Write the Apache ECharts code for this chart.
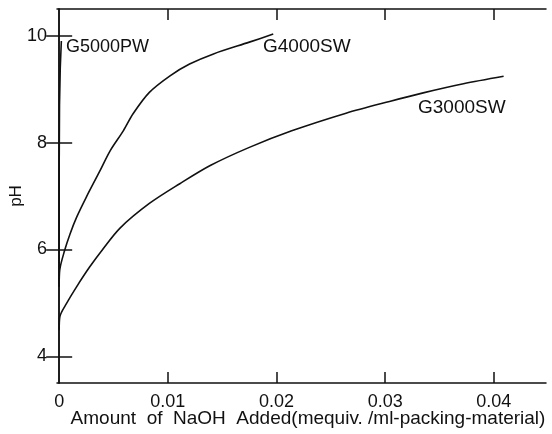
<!DOCTYPE html>
<html>
<head>
<meta charset="utf-8">
<script src="https://cdn.jsdelivr.net/npm/echarts@6/dist/echarts.min.js"></script>
<style>html,body{margin:0;padding:0;background:#fff}#c{width:552px;height:434px}</style>
</head>
<body>
<div id="c"></div>
<script>
// Data
const g5000X = [0, 0, 0.00003, 0.0001, 0.0002];
const g5000Y = [5.3, 7.5, 8.7, 9.4, 9.9];

const g4000X = [0, 0.00005, 0.0005, 0.0010, 0.0016, 0.0025, 0.0037, 0.0047, 0.0059, 0.0068, 0.0083, 0.0102, 0.0120, 0.0142, 0.0175, 0.0197];
const g4000Y = [5.30, 5.61, 5.98, 6.29, 6.60, 6.98, 7.45, 7.85, 8.22, 8.54, 8.94, 9.25, 9.47, 9.66, 9.88, 10.03];

const g3000X = [0, 0.00006, 0.00068, 0.0016, 0.0028, 0.0040, 0.0056, 0.0083, 0.0111, 0.0139, 0.0175, 0.0214, 0.0264, 0.0304, 0.0335, 0.0372, 0.0409];
const g3000Y = [4.49, 4.74, 4.99, 5.30, 5.67, 6.00, 6.40, 6.86, 7.23, 7.57, 7.91, 8.22, 8.55, 8.77, 8.93, 9.10, 9.24];

const xTickValues = [0, 0.01, 0.02, 0.03, 0.04];
const xTickLabels = ['0', '0.01', '0.02', '0.03', '0.04'];
const yTickValues = [4, 6, 8, 10];
const yTickLabels = ['4', '6', '8', '10'];

const seriesNames = ['G5000PW', 'G4000SW', 'G3000SW'];
const xTitle = 'Amount  of  NaOH  Added(mequiv. /ml-packing-material)';
const yTitle = 'pH';

const zip = (xs, ys) => xs.map((x, i) => [x, ys[i]]);
const FONT = 'Liberation Sans';
const lineCol = '#111';

const chart = echarts.init(document.getElementById('c'), null, {renderer: 'canvas'});

const axisLine = {show: true, lineStyle: {color: lineCol, width: 1.5}};
const tickStyle = {lineStyle: {color: lineCol, width: 1.5}};

const xBase = {
  type: 'value', min: -0.0002, max: 0.0448,
  axisLine: axisLine, splitLine: {show: false}
};
const yBase = {
  type: 'value', min: 3.5, max: 10.5,
  axisLine: axisLine, splitLine: {show: false}
};

const lineSeries = (name, data, smooth) => ({
  name: name, type: 'line', data: data, showSymbol: false, smooth: smooth,
  lineStyle: {color: lineCol, width: 1.6}, itemStyle: {color: lineCol}, animation: false
});

chart.setOption({
  animation: false,
  backgroundColor: '#fff',
  grid: {left: 57, right: 6, top: 9, bottom: 51, containLabel: false, outerBoundsMode: 'none'},
  xAxis: [
    Object.assign({}, xBase, {
      position: 'bottom',
      name: xTitle, nameLocation: 'middle', nameGap: 26, nameMoveOverlap: false,
      nameTextStyle: {fontFamily: FONT, fontSize: 19, color: lineCol, padding: [0, 0, 0, 13]},
      axisTick: Object.assign({show: true, inside: true, length: 11, customValues: xTickValues.slice(1)}, tickStyle),
      axisLabel: {show: true, margin: 10, fontFamily: FONT, fontSize: 18, color: lineCol,
        customValues: xTickValues,
        formatter: v => { const i = xTickValues.findIndex(t => Math.abs(t - v) < 1e-9); return i >= 0 ? xTickLabels[i] : ''; }}
    }),
    Object.assign({}, xBase, {
      position: 'top',
      axisTick: Object.assign({show: true, inside: true, length: 11, customValues: xTickValues.slice(1)}, tickStyle),
      axisLabel: {show: false}
    })
  ],
  yAxis: [
    Object.assign({}, yBase, {
      position: 'left',
      name: yTitle, nameLocation: 'middle', nameGap: 32, nameRotate: 90, nameMoveOverlap: false,
      nameTextStyle: {fontFamily: FONT, fontSize: 17, color: lineCol},
      axisTick: Object.assign({show: true, inside: true, length: 13, customValues: yTickValues}, tickStyle),
      axisLabel: {show: true, margin: 10, fontFamily: FONT, fontSize: 18, color: lineCol,
        customValues: yTickValues,
        formatter: v => { const i = yTickValues.findIndex(t => Math.abs(t - v) < 1e-9); return i >= 0 ? yTickLabels[i] : ''; }}
    }),
    Object.assign({}, yBase, {
      position: 'right',
      axisTick: Object.assign({show: true, inside: true, length: 13, customValues: yTickValues}, tickStyle),
      axisLabel: {show: false}
    })
  ],
  series: [
    lineSeries(seriesNames[0], zip(g5000X, g5000Y), false),
    lineSeries(seriesNames[1], zip(g4000X, g4000Y), 0.3),
    lineSeries(seriesNames[2], zip(g3000X, g3000Y), 0.3)
  ],
  graphic: [
    {type: 'text', left: 66, top: 38, style: {text: seriesNames[0], font: '18px "' + FONT + '"', fill: lineCol}},
    {type: 'text', left: 263, top: 37, style: {text: seriesNames[1], font: '19px "' + FONT + '"', fill: lineCol}},
    {type: 'text', left: 418, top: 98, style: {text: seriesNames[2], font: '19px "' + FONT + '"', fill: lineCol}}
  ]
});
</script>
</body>
</html>
